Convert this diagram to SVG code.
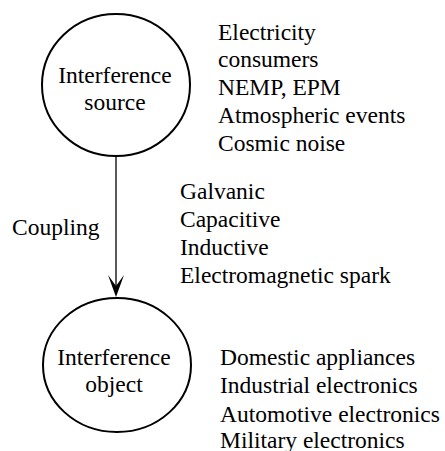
<svg xmlns="http://www.w3.org/2000/svg" width="445" height="451" viewBox="0 0 445 451">
<defs>
<path id="arrowhead" d="M0,0 L-8,-22 L0,-11 L8,-22 Z" fill="#000"/>
</defs>
<rect width="445" height="451" fill="#fff"/>
<g id="connectors">
<line x1="116" y1="155" x2="116" y2="288" stroke="#000" stroke-width="1.3"/>
<use href="#arrowhead" x="116" y="297"/>
<text x="12" y="235" font-family="Liberation Serif" font-size="23.5">Coupling</text>
</g>
<g id="source">
<ellipse cx="116" cy="85" rx="74" ry="71" fill="#fff" stroke="#000" stroke-width="2"/>
<text x="115" y="83" font-family="Liberation Serif" font-size="23.5" text-anchor="middle">Interference</text>
<text x="115" y="110" font-family="Liberation Serif" font-size="23.5" text-anchor="middle">source</text>
</g>
<g id="source-list">
<text x="218" y="40" font-family="Liberation Serif" font-size="23.5">Electricity</text>
<text x="218" y="67" font-family="Liberation Serif" font-size="23.5">consumers</text>
<text x="218" y="95" font-family="Liberation Serif" font-size="23.5">NEMP, EPM</text>
<text x="218" y="123" font-family="Liberation Serif" font-size="23.5">Atmospheric events</text>
<text x="218" y="151" font-family="Liberation Serif" font-size="23.5">Cosmic noise</text>
</g>
<g id="coupling-list">
<text x="180" y="199" font-family="Liberation Serif" font-size="23.5">Galvanic</text>
<text x="180" y="227" font-family="Liberation Serif" font-size="23.5">Capacitive</text>
<text x="180" y="255" font-family="Liberation Serif" font-size="23.5">Inductive</text>
<text x="180" y="283" font-family="Liberation Serif" font-size="23.5">Electromagnetic spark</text>
</g>
<g id="object">
<ellipse cx="117" cy="365" rx="74" ry="67" fill="#fff" stroke="#000" stroke-width="2"/>
<text x="114" y="365" font-family="Liberation Serif" font-size="23.5" text-anchor="middle">Interference</text>
<text x="114" y="392" font-family="Liberation Serif" font-size="23.5" text-anchor="middle">object</text>
</g>
<g id="object-list">
<text x="220" y="365" font-family="Liberation Serif" font-size="23.5">Domestic appliances</text>
<text x="220" y="393" font-family="Liberation Serif" font-size="23.5">Industrial electronics</text>
<text x="220" y="422" font-family="Liberation Serif" font-size="23.5">Automotive electronics</text>
<text x="220" y="448" font-family="Liberation Serif" font-size="23.5">Military electronics</text>
</g>
</svg>
